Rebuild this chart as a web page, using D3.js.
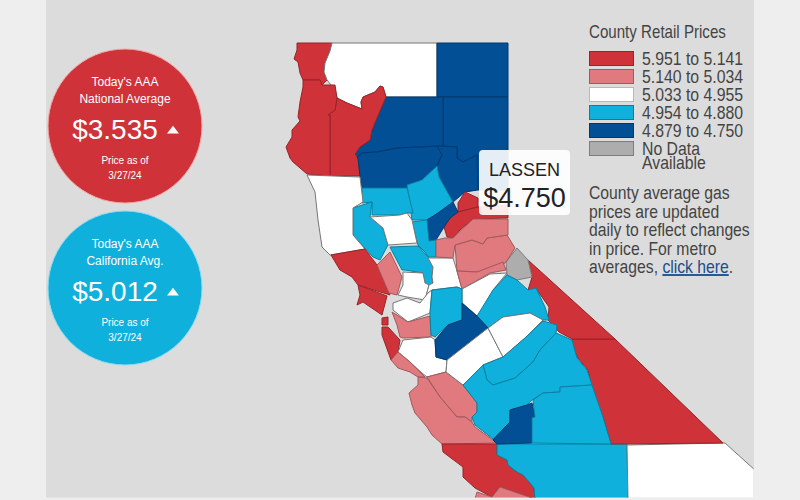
<!DOCTYPE html>
<html>
<head>
<meta charset="utf-8">
<style>
  html, body { margin: 0; padding: 0; background: #eeeeee; }
  svg { display: block; }
  text { font-family: "Liberation Sans", Arial, sans-serif; }
  .narrow { fill: #444; }
</style>
</head>
<body>
<svg id="chart" width="800" height="500"></svg>
<script src="https://cdn.jsdelivr.net/npm/d3@7"></script>
<script>
// county prices (only Lassen is printed, the rest sit inside their colour bin)
const countyNames = ['Del Norte','Siskiyou','Modoc','Lassen','Shasta','Trinity','Humboldt','Tehama','Plumas','Butte','Sierra','Nevada','Yuba','Sutter','Glenn','Lake','Colusa','Mendocino','Sonoma','Marin','Napa','Yolo','Solano','Sacramento','Contra Costa','Alameda','San Francisco','San Mateo','Santa Clara','Santa Cruz','San Benito','Monterey','San Luis Obispo','Santa Barbara','Kern','San Bernardino','Inyo','Mono','Alpine','El Dorado','Placer','Amador','Calaveras','Tuolumne','San Joaquin','Stanislaus','Merced','Mariposa','Madera','Fresno','Kings','Tulare'];
const countyPrices = [5.30,5.00,4.80,4.750,4.82,5.25,5.35,4.84,4.86,4.90,5.20,5.18,4.85,4.92,4.91,4.93,5.00,4.99,5.45,5.60,5.10,4.90,5.01,4.98,5.02,5.08,5.70,5.55,5.03,5.12,5.06,5.09,5.22,5.07,4.91,5.00,5.40,5.90,null,5.10,5.05,5.08,5.00,4.92,4.94,4.86,4.97,5.02,4.90,4.93,4.84,4.89];

// outlines, in the order of countyNames
const countyOutlines = [
  [[297,43],[332,43],[330,51],[325,63],[324,72],[327,80],[322,85],[320,80],[303,80],[300,73],[298,62],[294,59],[297,50]],
  [[332,43],[437,43],[437,97],[386,97],[383,87],[380,86],[375,92],[363,97],[361,102],[362,109],[357,107],[347,103],[337,98],[335,90],[327,80],[324,72],[325,63],[330,51]],
  [[437,43],[508,43],[508,97],[437,97]],
  [[443,97],[508,97],[508,190],[478,190],[477,155],[463,162],[457,158],[457,147],[443,146]],
  [[386,97],[443,97],[443,146],[420,147],[397,148],[377,152],[362,153],[357,157],[355,154],[360,147],[370,140],[372,130],[377,118]],
  [[337,98],[347,103],[362,109],[361,102],[363,97],[375,92],[380,86],[383,87],[386,97],[377,118],[372,130],[370,140],[360,147],[355,154],[358,158],[360,176],[330,176],[330,115],[328,115],[335,110]],
  [[303,80],[320,80],[322,85],[335,85],[337,98],[335,110],[328,115],[330,115],[330,176],[307,174],[293,162],[290,158],[286,147],[292,137],[292,130],[300,121],[298,117],[300,102],[303,87]],
  [[357,157],[362,153],[377,152],[397,148],[420,147],[437,146],[442,155],[437,166],[422,180],[407,185],[407,188],[362,188],[360,176],[358,158]],
  [[437,146],[457,147],[457,158],[463,162],[477,155],[478,190],[465,192],[453,202],[439,177],[437,166],[442,155]],
  [[407,185],[422,180],[437,166],[439,177],[453,202],[438,213],[427,220],[412,220],[410,205]],
  [[465,192],[478,198],[478,207],[458,212],[458,203]],
  [[444,227],[450,218],[458,212],[478,207],[508,205],[508,218],[473,219],[460,230],[453,238],[447,237]],
  [[427,220],[438,213],[453,202],[458,212],[450,218],[444,227],[436,240],[432,242],[429,241]],
  [[412,222],[427,220],[429,241],[436,240],[436,257],[428,257],[425,252],[418,245]],
  [[362,188],[407,188],[413,213],[407,213],[400,215],[372,215],[372,202],[362,203]],
  [[353,208],[372,202],[370,217],[383,228],[388,245],[380,260],[373,257],[353,235],[353,223]],
  [[370,217],[400,215],[407,213],[412,220],[417,243],[388,245],[383,228]],
  [[307,175],[360,177],[363,202],[353,208],[353,235],[365,249],[330,255],[322,247],[318,220],[315,192]],
  [[331,255],[365,249],[377,265],[390,295],[358,285],[352,277],[340,270]],
  [[358,285],[387,296],[382,315],[363,302],[357,305],[360,295]],
  [[377,265],[390,252],[402,277],[397,295],[389,293]],
  [[390,247],[418,246],[428,257],[433,267],[432,277],[433,285],[425,285],[423,273],[405,270],[402,270],[393,253]],
  [[403,272],[423,273],[425,283],[429,285],[425,300],[407,297],[398,295],[403,285]],
  [[428,258],[453,258],[457,271],[462,289],[457,287],[432,290],[428,293],[425,300],[429,285],[433,283],[432,277],[433,267]],
  [[393,303],[407,298],[420,303],[428,293],[432,290],[430,313],[408,322],[393,310]],
  [[392,312],[408,322],[430,316],[431,335],[431,337],[403,338],[400,337],[397,325]],
  [[382,318],[388,317],[388,325],[382,325]],
  [[382,327],[388,327],[400,340],[398,352],[391,360],[382,335]],
  [[403,340],[431,337],[435,340],[436,357],[447,360],[446,372],[427,377],[422,373],[410,362],[398,352]],
  [[391,360],[398,352],[410,362],[425,377],[418,377],[410,372],[398,368]],
  [[427,377],[446,372],[463,385],[477,403],[477,412],[472,417],[472,422],[465,417],[457,417],[440,397]],
  [[418,377],[427,378],[440,397],[457,417],[465,417],[472,422],[475,427],[497,443],[442,444],[432,435],[427,427],[415,413],[412,405],[409,393],[418,385]],
  [[442,444],[497,444],[497,455],[507,460],[508,465],[517,472],[523,475],[530,483],[534,488],[535,499],[500,487],[492,497],[475,488],[463,477],[463,467],[443,452]],
  [[475,499],[477,492],[492,497],[500,487],[535,499]],
  [[497,444],[627,444],[628,499],[535,499],[534,488],[530,483],[523,475],[517,472],[508,465],[507,460],[497,455]],
  [[627,445],[725,443],[756,471],[756,499],[628,499]],
  [[572,339],[615,339],[723,443],[611,444],[603,417],[592,390],[588,370],[578,358],[572,345]],
  [[528,260],[615,339],[572,339],[559,332],[548,320],[549,307],[537,290],[528,290],[532,277]],
  [[517,248],[528,260],[532,277],[517,280],[507,275],[506,262]],
  [[455,245],[472,240],[483,244],[487,238],[507,235],[515,248],[506,262],[500,267],[477,272],[457,271]],
  [[436,240],[445,238],[453,238],[473,219],[508,219],[508,235],[487,238],[483,244],[472,240],[455,245],[453,258],[436,257]],
  [[457,271],[477,272],[503,262],[506,270],[490,273],[462,289]],
  [[462,289],[490,274],[507,273],[493,290],[483,310],[477,316],[462,303]],
  [[477,316],[493,290],[507,275],[517,280],[528,290],[536,288],[545,307],[549,320],[543,320],[530,313],[503,317],[488,328]],
  [[432,290],[457,287],[462,289],[462,320],[448,325],[435,337],[431,335],[430,313]],
  [[462,303],[477,316],[488,328],[447,360],[436,357],[435,340],[448,325],[462,320]],
  [[488,328],[503,357],[483,365],[463,385],[446,372],[447,360]],
  [[488,328],[503,317],[530,313],[543,320],[525,338],[503,357]],
  [[503,357],[525,338],[543,321],[557,325],[556,333],[540,350],[533,362],[515,378],[493,385],[487,380],[483,365]],
  [[463,385],[483,365],[487,380],[493,385],[515,378],[533,362],[540,350],[556,333],[572,340],[577,358],[587,370],[592,385],[560,387],[560,392],[543,393],[532,400],[527,405],[510,410],[510,422],[493,439],[475,425],[472,417],[477,412],[477,403]],
  [[493,440],[510,422],[510,410],[527,405],[532,403],[535,417],[532,418],[532,443],[497,444]],
  [[532,443],[532,418],[535,417],[533,400],[543,393],[560,392],[560,387],[592,385],[603,417],[611,444]]
];

// price bins, highest first
const binLabels = ['5.951 to 5.141','5.140 to 5.034','5.033 to 4.955','4.954 to 4.880','4.879 to 4.750'];
const binLimits = [4.880,4.955,5.034,5.141];
const binColors = ['#034f96','#0fb0dc','#ffffff','#e07a7e','#cf3339'];
const noDataColor = '#adadad';

const averageTitles = [["Today's AAA",'National Average'],["Today's AAA",'California Avg.']];
const averagePrices = ['$3.535','$5.012'];
const averageDates = ['3/27/24','3/27/24'];
const averageColors = ['#cf3339','#0fb0dc'];
const averageRims = ['#f4a9a6','#8fdcf2'];

const noteLines = ['County average gas','prices are updated','daily to reflect changes','in price. For metro'];

const svg = d3.select('#chart');

// no narrow face is installed, so squeeze the regular one sideways
function narrowText(x, y, size, squeeze) {
    return svg.append('text')
        .attr('class', 'narrow')
        .attr('transform', `translate(${x},${y}) scale(${squeeze},1)`)
        .style('font-size', size + 'px');
}

// page panel
svg.append('rect').attr('x', 46).attr('width', 708).attr('height', 497.5).attr('fill', '#dcdcdc');
svg.append('clipPath').attr('id', 'panel')
    .append('rect').attr('x', 46).attr('width', 707.5).attr('height', 497.5);

// map
const color = d3.scaleThreshold().domain(binLimits).range(binColors);
const fillFor = v => v === null ? noDataColor : color(v);
const edgeFor = v => v !== null && color(v) === '#ffffff' ? '#777' : d3.color(fillFor(v)).darker(0.9);

const counties = countyNames.map((name, i) => ({
    type: 'Feature',
    properties: {name: name, price: countyPrices[i]},
    geometry: {type: 'Polygon', coordinates: [countyOutlines[i].concat([countyOutlines[i][0]])]}
}));
const path = d3.geoPath(d3.geoIdentity());

svg.append('g').attr('clip-path', 'url(#panel)').selectAll('path')
    .data(counties)
    .join('path')
    .attr('d', path)
    .attr('fill', d => fillFor(d.properties.price))
    .attr('stroke', d => edgeFor(d.properties.price))
    .attr('stroke-width', 1)
    .attr('stroke-linejoin', 'round');

// average price bubbles
const bubble = svg.append('g').selectAll('g')
    .data(averagePrices)
    .join('g')
    .attr('transform', (d, i) => `translate(125,${126 + i * 162})`);

bubble.append('circle')
    .attr('r', 77)
    .attr('fill', (d, i) => averageColors[i])
    .attr('stroke', (d, i) => averageRims[i])
    .attr('stroke-width', 1);

bubble.each(function(d, i) {
    const g = d3.select(this);
    averageTitles[i].forEach((line, k) => {
        g.append('text').attr('text-anchor', 'middle').attr('y', -40 + k * 17)
            .attr('fill', '#fff').style('font-size', '12px').text(line);
    });
    g.append('text').attr('x', -10).attr('y', 13).attr('text-anchor', 'middle')
        .attr('fill', '#fff').style('font-size', '28px').text(d);
    g.append('path')
        .attr('d', d3.symbol(d3.symbolTriangle, 62))
        .attr('transform', 'translate(48,5) scale(1,0.75)')
        .attr('fill', '#fff');
    g.append('text').attr('text-anchor', 'middle').attr('y', 38)
        .attr('fill', '#fff').style('font-size', '10px').text('Price as of');
    g.append('text').attr('text-anchor', 'middle').attr('y', 53)
        .attr('fill', '#fff').style('font-size', '10px').text(averageDates[i]);
});

// legend
const legendX = 589;
narrowText(legendX, 38, 18, 0.84).text('County Retail Prices');

const legendRows = binLabels.map((label, i) => ({label: label, fill: binColors[binColors.length - 1 - i]}));
legendRows.push({label: 'No Data', fill: noDataColor});

const row = svg.append('g').selectAll('g')
    .data(legendRows)
    .join('g')
    .attr('transform', (d, i) => `translate(${legendX},${51 + i * 18})`);

row.append('rect')
    .attr('x', 0.5).attr('y', 0.5)
    .attr('width', 44).attr('height', 14)
    .attr('fill', d => d.fill)
    .attr('stroke', d => d3.color(d.fill).darker(0.9))
    .attr('stroke-width', 1);

row.append('text').attr('class', 'narrow')
    .attr('transform', 'translate(53,14) scale(0.855,1)')
    .style('font-size', '18.5px')
    .text(d => d.label);

narrowText(legendX + 53, 169, 18.5, 0.855).text('Available');

// note
noteLines.forEach((line, i) => {
    narrowText(legendX, 199 + i * 18.6, 18.5, 0.85).text(line);
});
const lastLine = narrowText(legendX, 273, 18.5, 0.85);
lastLine.append('tspan').text('averages, ');
lastLine.append('tspan').style('fill', '#1a4f8b').style('text-decoration', 'underline').text('click here');
lastLine.append('tspan').text('.');

// tooltip on Lassen
const lassen = counties.find(d => d.properties.name === 'Lassen');
svg.append('rect')
    .attr('x', 479).attr('y', 150).attr('width', 91).attr('height', 65).attr('rx', 4)
    .attr('fill', '#fff').attr('fill-opacity', 0.9);
svg.append('text').attr('x', 524.5).attr('y', 176).attr('text-anchor', 'middle')
    .attr('fill', '#222').style('font-size', '18px').text(lassen.properties.name.toUpperCase());
svg.append('text').attr('x', 524.5).attr('y', 207).attr('text-anchor', 'middle')
    .attr('fill', '#222').style('font-size', '27px').text('$' + lassen.properties.price.toFixed(3));
</script>
</body>
</html>
